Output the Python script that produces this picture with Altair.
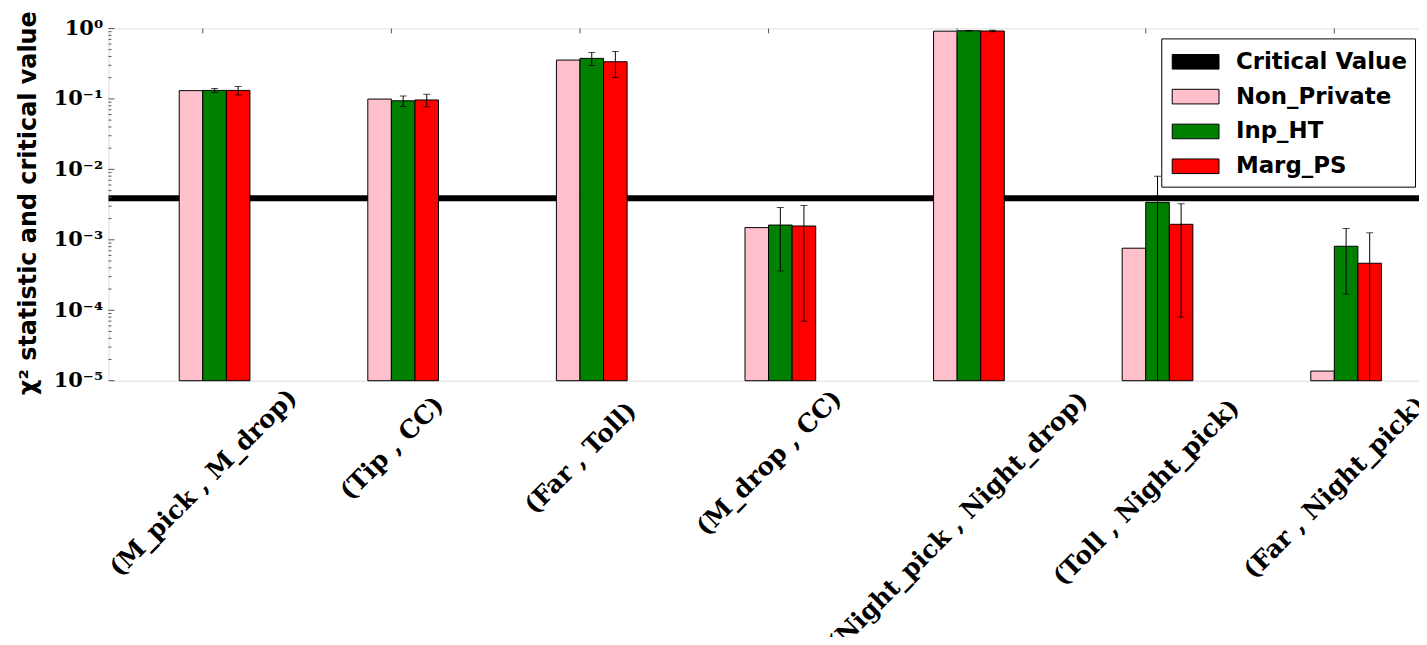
import json
import altair as alt
import pandas as pd

# ---------------- data ----------------
categories = [
    "(M_pick , M_drop)",
    "(Tip , CC)",
    "(Far , Toll)",
    "(M_drop , CC)",
    "(Night_pick , Night_drop)",
    "(Toll , Night_pick)",
    "(Far , Night_pick)",
]
series_names = ["Non_Private", "Inp_HT", "Marg_PS"]
non_private = [0.131, 0.0995, 0.356, 0.00149, 0.916, 0.00076, 0.0000137]
inp_ht = [0.132, 0.094, 0.376, 0.00162, 0.927, 0.0034, 0.00081]
inp_ht_err = [0.009, 0.016, 0.079, 0.00126, 0.01, 0.0046, 0.00064]
marg_ps = [0.132, 0.0966, 0.337, 0.00157, 0.92, 0.00166, 0.000465]
marg_ps_err = [0.018, 0.0195, 0.135, 0.0015, 0.02, 0.00158, 0.00079]
critical_value = 0.0039
legend_names = ["Critical Value"] + series_names
legend_colors = ["black", "pink", "green", "red"]
y_tick_values = [1e-5, 1e-4, 1e-3, 1e-2, 1e-1, 1.0]
y_tick_sup = ["⁰", "⁻¹", "⁻²", "⁻³", "⁻⁴", "⁻⁵"]
y_minor_ticks = [m * 10.0 ** e for e in range(-5, 0) for m in range(2, 10)]

rows = []
for i, cat in enumerate(categories):
    for s, (vals, errs) in enumerate(
        [(non_private, None), (inp_ht, inp_ht_err), (marg_ps, marg_ps_err)]
    ):
        rows.append(
            {
                "idx": i,
                "category": cat,
                "series": series_names[s],
                "sidx": s,
                "value": vals[i],
                "err": errs[i] if errs is not None else None,
            }
        )
df = pd.DataFrame(rows)

# ---------------- layout ----------------
BAR_W = 0.125
W, H = 1317, 354
X_DOMAIN = [-0.5, 6.449]
Y_DOMAIN = [1e-5, 1.0]
XLAB_SIZE = 25

xscale = alt.Scale(domain=X_DOMAIN, nice=False, zero=False)
yscale = alt.Scale(type="log", domain=Y_DOMAIN, nice=False)

cats_js = json.dumps(categories)
sup_js = json.dumps(y_tick_sup)

x_axis = alt.Axis(
    values=list(range(len(categories))),
    labelExpr=f"{cats_js}[datum.value]",
    labelAngle=315,
    labelAlign="center",
    labelBaseline="middle",
    labelPadding={
        "expr": f"9 + ({cats_js}[datum.value].length * {0.56 * XLAB_SIZE} + {XLAB_SIZE}) / 2.83"
    },
    labelFont="DejaVu Serif",
    labelFontWeight="bold",
    labelFontSize=XLAB_SIZE,
    labelColor="black",
    labelLimit=0,
    labelOverlap=False,
    labelFlush=False,
    ticks=False,
    domain=False,
    grid=False,
    title=None,
)

y_axis = alt.Axis(
    values=y_tick_values,
    labelExpr=f"'10' + {sup_js}[round(-log(datum.value) / LN10)]",
    labelFont="DejaVu Serif",
    labelFontWeight="bold",
    labelFontSize=21,
    labelColor="black",
    labelPadding=6,
    labelFlush=False,
    labelOverlap=False,
    ticks=False,
    domain=False,
    grid=False,
    title="χ² statistic and critical value",
    titleFont="DejaVu Sans",
    titleFontWeight="bold",
    titleFontSize=24,
    titleColor="black",
    titleAngle=270,
    titleAlign="center",
    titleBaseline="alphabetic",
    titleX=-73,
    titleY=H / 2 - 2,
)

base = alt.Chart(df).transform_calculate(
    x0=f"datum.idx + (datum.sidx - 1) * {BAR_W}",
    x1=f"datum.idx + datum.sidx * {BAR_W}",
    xc=f"datum.idx + (datum.sidx - 0.5) * {BAR_W}",
    hi="datum.value + datum.err",
    lo="max(datum.value - datum.err, 1e-9)",
)

bars = base.mark_bar(stroke="black", strokeWidth=1).encode(
    x=alt.X("x0:Q", scale=xscale, axis=x_axis),
    x2="x1:Q",
    y=alt.Y("value:Q", scale=yscale, axis=y_axis, stack=None),
    y2=alt.Y2(datum=Y_DOMAIN[0]),
    color=alt.Color(
        "series:N",
        scale=alt.Scale(domain=legend_names, range=legend_colors),
        legend=alt.Legend(
            title=None,
            orient="none",
            legendX=1058,
            legendY=10,
            symbolType="M-1.6,-0.5H1.6V0.5H-1.6Z",
            symbolSize=864,
            symbolOffset=11,
            symbolStrokeColor="black",
            symbolStrokeWidth=1,
            symbolOpacity=1,
            labelFont="DejaVu Sans",
            labelFontWeight="bold",
            labelFontSize=23,
            labelColor="black",
            labelOffset=25,
            labelLimit=0,
            rowPadding=7,
            padding=8,
            strokeColor="black",
            fillColor="white",
            values=legend_names,
        ),
    ),
)

err_data = base.transform_filter("isValid(datum.err)")
err_rules = err_data.mark_rule(color="black", strokeWidth=1, clip=True).encode(
    x=alt.X("xc:Q", scale=xscale, axis=x_axis),
    y=alt.Y("lo:Q", scale=yscale, axis=y_axis),
    y2="hi:Q",
)
err_caps_hi = err_data.mark_tick(
    color="black", orient="horizontal", size=7, thickness=1, clip=True
).encode(
    x=alt.X("xc:Q", scale=xscale, axis=x_axis),
    y=alt.Y("hi:Q", scale=yscale, axis=y_axis),
)
err_caps_lo = err_data.mark_tick(
    color="black", orient="horizontal", size=7, thickness=1, clip=True
).encode(
    x=alt.X("xc:Q", scale=xscale, axis=x_axis),
    y=alt.Y("lo:Q", scale=yscale, axis=y_axis),
)

crit = alt.Chart(pd.DataFrame({"critical": [critical_value]})).mark_rule(
    color="black", strokeWidth=6
).encode(y=alt.Y("critical:Q", scale=yscale, axis=y_axis))

major_ticks = alt.Chart(pd.DataFrame({"t": y_tick_values})).mark_rule(
    color="#555555", strokeWidth=1
).encode(
    y=alt.Y("t:Q", scale=yscale, axis=y_axis), x=alt.value(0), x2=alt.value(6)
)
minor_ticks = alt.Chart(pd.DataFrame({"t": y_minor_ticks})).mark_rule(
    color="#555555", strokeWidth=1
).encode(
    y=alt.Y("t:Q", scale=yscale, axis=y_axis), x=alt.value(0), x2=alt.value(3)
)
top_ticks = alt.Chart(pd.DataFrame({"idx": list(range(len(categories)))})).mark_rule(
    color="#555555", strokeWidth=1
).encode(
    x=alt.X("idx:Q", scale=xscale, axis=x_axis), y=alt.value(0), y2=alt.value(5)
)

chart = (
    alt.layer(crit, bars, err_rules, err_caps_hi, err_caps_lo, major_ticks, minor_ticks, top_ticks)
    .properties(
        width=W,
        height=H,
        autosize=alt.AutoSizeParams(type="none"),
        padding={"left": 101, "top": 19, "right": 0, "bottom": 256},
    )
    .configure_view(stroke="#7f7f7f", strokeWidth=2)
    .configure(background="white")
)

chart.save("out.html", embed_options={"renderer": "svg", "actions": False})
